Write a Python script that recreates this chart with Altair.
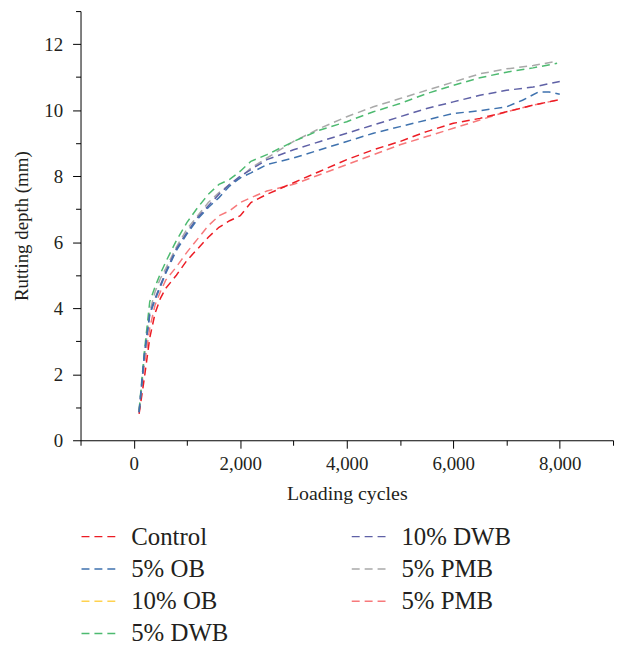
import altair as alt
import pandas as pd

cycles_a = [100, 200, 300, 400, 500, 600, 800, 1000, 1200, 1400, 1600, 1800, 2000,
            2200, 2500, 3000, 3500, 4000, 4500, 5000, 5500, 6000, 6500, 7000, 7500, 8000]
cycles_top = [100, 200, 300, 400, 500, 600, 800, 1000, 1200, 1400, 1600, 1800, 2000,
              2200, 2500, 3000, 3500, 4000, 4500, 5000, 5500, 6000, 6500, 7000, 7500, 7950]
cycles_ob = [100, 200, 300, 400, 500, 600, 800, 1000, 1200, 1400, 1600, 1800, 2000,
             2200, 2500, 3000, 3500, 4000, 4500, 5000, 5500, 6000, 6500, 7000, 7300, 7600, 7800, 8000]

control = [0.8, 1.9, 3.1, 3.85, 4.3, 4.6, 5.0, 5.45, 5.8, 6.15, 6.45, 6.65, 6.8,
           7.2, 7.45, 7.8, 8.15, 8.5, 8.8, 9.05, 9.35, 9.6, 9.75, 9.95, 10.15, 10.32]
ob5 = [0.85, 2.6, 3.8, 4.25, 4.65, 5.05, 5.75, 6.25, 6.7, 7.05, 7.35, 7.7, 7.95,
       8.1, 8.35, 8.55, 8.8, 9.05, 9.3, 9.5, 9.7, 9.9, 9.98, 10.1, 10.3, 10.55, 10.55, 10.48]
dwb5 = [0.9, 2.7, 4.2, 4.65, 5.05, 5.4, 6.05, 6.6, 7.05, 7.45, 7.75, 7.9, 8.15,
        8.45, 8.65, 9.05, 9.4, 9.65, 9.95, 10.2, 10.5, 10.75, 10.98, 11.15, 11.28, 11.42]
dwb10 = [0.85, 2.6, 3.85, 4.3, 4.7, 5.1, 5.8, 6.3, 6.75, 7.1, 7.45, 7.75, 8.0,
         8.2, 8.5, 8.8, 9.05, 9.3, 9.55, 9.8, 10.05, 10.25, 10.45, 10.6, 10.7, 10.87]
pmb5_gray = [0.9, 2.5, 3.9, 4.5, 4.9, 5.2, 5.85, 6.4, 6.8, 7.2, 7.5, 7.75, 7.95,
             8.25, 8.55, 9.05, 9.45, 9.8, 10.1, 10.35, 10.6, 10.85, 11.1, 11.25, 11.35, 11.48]
pmb5_salmon = [0.85, 2.3, 3.4, 4.1, 4.5, 4.85, 5.25, 5.7, 6.1, 6.5, 6.8, 6.95, 7.2,
               7.35, 7.55, 7.75, 8.05, 8.35, 8.65, 8.95, 9.2, 9.45, 9.7, 9.95, 10.15, 10.32]

series = [
    ("5% PMB (b)", cycles_a, pmb5_salmon),
    ("Control", cycles_a, control),
    ("5% PMB", cycles_top, pmb5_gray),
    ("5% DWB", cycles_top, dwb5),
    ("10% DWB", cycles_a, dwb10),
    ("5% OB", cycles_ob, ob5),
]

# legend order (column-major in a 2-column grid)
legend_domain = ["Control", "5% OB", "10% OB", "5% DWB", "10% DWB", "5% PMB", "5% PMB (b)"]
legend_colors = ["#ec1c24", "#3f72ae", "#ffd24f", "#4dba70", "#5f61a6", "#a9a9a9", "#f7797b"]

rows = []
for order, (name, xs, ys) in enumerate(series):
    for x, y in zip(xs, ys):
        rows.append({"series": name, "cycles": x, "depth": y, "ord": order})
df = pd.DataFrame(rows)

font = "Liberation Serif"
txt = "#231f20"

x_ticks = list(range(-1000, 9001, 1000))
y_ticks = list(range(0, 14))

chart = alt.Chart(df).mark_line(strokeDash=[8, 5], strokeWidth=1.5).encode(
    x=alt.X("cycles:Q", scale=alt.Scale(domain=[-1000, 9000], nice=False, zero=False),
            axis=alt.Axis(title="Loading cycles", values=x_ticks,
                          labelExpr="datum.value >= 0 && datum.value % 2000 == 0 ? format(datum.value, ',') : ''",
                          tickSize={"condition": {"test": "datum.value % 2000 == 0", "value": 8}, "value": 5},
                          labelPadding=6, titlePadding=11, titleFontSize=20,
                          labelOverlap=False, labelBound=False)),
    y=alt.Y("depth:Q", scale=alt.Scale(domain=[0, 13], nice=False),
            axis=alt.Axis(title="Rutting depth (mm)", values=y_ticks,
                          labelExpr="datum.value % 2 == 0 ? datum.label : ''",
                          tickSize={"condition": {"test": "datum.value % 2 == 0", "value": 8}, "value": 5},
                          labelPadding=10, titlePadding=12, labelOverlap=False, labelBound=False)),
    color=alt.Color("series:N",
                    scale=alt.Scale(domain=legend_domain, range=legend_colors),
                    legend=alt.Legend(title=None, orient="none", legendX=0, legendY=511,
                                      columns=2, columnPadding=121, rowPadding=1.5,
                                      symbolType="stroke", symbolSize=1156,
                                      symbolStrokeWidth=1.5, symbolDash=[8, 5],
                                      labelFont=font, labelFontSize=25, labelColor=txt,
                                      labelOffset=15, labelLimit=300, padding=0,
                                      labelExpr="datum.label == '5% PMB (b)' ? '5% PMB' : datum.label")),
    order=alt.Order("ord:Q"),
).properties(
    width=536, height=432,
    autosize=alt.AutoSizeParams(type="none"),
    padding={"left": 73, "top": 1, "right": 3, "bottom": 206},
).configure_view(stroke=None).configure_axis(
    grid=False, domainColor="#000000", tickColor="#000000", domainWidth=1, tickWidth=1,
    labelFont=font, labelFontSize=19, labelColor=txt,
    titleFont=font, titleFontSize=19, titleColor=txt, titleFontWeight="normal",
)

chart.save("out.html", embed_options={"renderer": "svg", "actions": False})
